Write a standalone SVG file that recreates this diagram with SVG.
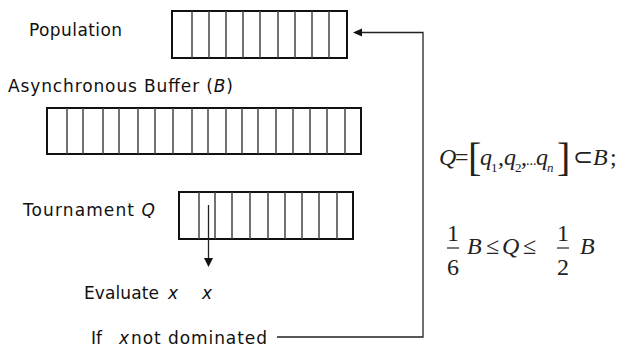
<svg xmlns="http://www.w3.org/2000/svg" width="621" height="351" viewBox="0 0 621 351">
<style>
.lbl{font-family:"DejaVu Sans","Verdana",sans-serif;font-size:17px;fill:#111}
.it{font-style:italic}
.m{font-family:"Liberation Serif","Times New Roman",serif;font-size:24px;fill:#222}
.sub{font-size:13px}
.big{font-size:40px}
.dots{font-size:14px}
.box{fill:#fff;stroke:#111;stroke-width:2}
.div{stroke:#444;stroke-width:1.5}
.con{fill:none;stroke:#222;stroke-width:1.3}
</style>
<rect width="621" height="351" fill="#fff"/>

<g id="population">
<text class="lbl" x="29" y="36" textLength="93">Population</text>
<rect class="box" x="172" y="11" width="175" height="47"/>
<path class="div" d="M192,11V58M209,11V58M226,11V58M243,11V58M260,11V58M278,11V58M295,11V58M312,11V58M329,11V58"/>
</g>

<g id="buffer">
<text class="lbl" x="8" y="92" textLength="225">Asynchronous Buffer (<tspan class="it">B</tspan>)</text>
<rect class="box" x="47" y="108" width="314" height="46"/>
<path class="div" d="M67,108V154M83,108V154M103,108V154M119,108V154M138,108V154M155,108V154M173,108V154M192,108V154M208,108V154M226,108V154M242,108V154M258,108V154M276,108V154M293,108V154M310,108V154M327,108V154M345,108V154"/>
</g>

<g id="tournament">
<text class="lbl" x="23" y="216" textLength="132">Tournament <tspan class="it">Q</tspan></text>
<rect class="box" x="179" y="192" width="174" height="47"/>
<path class="div" d="M199,192V239M215,192V239M232,192V239M250,192V239M268,192V239M285,192V239M302,192V239M319,192V239M337,192V239"/>
</g>

<g id="evaluate">
<text class="lbl" x="84" y="299" textLength="75">Evaluate</text>
<text class="lbl it" x="168" y="299">x</text>
<text class="lbl it" x="202" y="299">x</text>
</g>

<g id="dominated">
<text class="lbl" x="91" y="344">If</text>
<text class="lbl it" x="119" y="344">x</text>
<text class="lbl" x="131" y="344" textLength="136">not dominated</text>
</g>

<g id="connectors">
<path class="con" d="M208.5,205V259"/>
<polygon points="204,258 213,258 208.5,267" fill="#111"/>
<path class="con" d="M277,337H423V32.5H361"/>
<polygon points="353,32.5 362,28.5 362,36.5" fill="#111"/>
</g>

<g id="formula1">
<text class="m it" x="439" y="165">Q</text>
<text class="m" x="455" y="165">=</text>
<text class="m big" x="468" y="171">[</text>
<text class="m it" x="480" y="165">q</text>
<text class="m sub" x="491" y="172">1</text>
<text class="m" x="498" y="165">,</text>
<text class="m it" x="504" y="165">q</text>
<text class="m sub" x="515" y="172">2</text>
<text class="m" x="521" y="165">,</text>
<text class="m dots" x="526" y="165">...</text>
<text class="m it" x="536" y="165">q</text>
<text class="m sub it" x="547" y="172">n</text>
<text class="m big" x="557" y="171">]</text>
<text class="m" x="573" y="165">⊂</text>
<text class="m it" x="593" y="165">B</text>
<text class="m" x="610" y="165">;</text>
</g>

<g id="formula2">
<text class="m" x="453" y="241" text-anchor="middle">1</text>
<line x1="447" y1="248" x2="459" y2="248" stroke="#222" stroke-width="1.2"/>
<text class="m" x="453" y="275" text-anchor="middle">6</text>
<text class="m it" x="467" y="254">B</text>
<text class="m" x="486" y="254">≤</text>
<text class="m it" x="502" y="254">Q</text>
<text class="m" x="523" y="254">≤</text>
<text class="m" x="563" y="241" text-anchor="middle">1</text>
<line x1="557" y1="248" x2="569" y2="248" stroke="#222" stroke-width="1.2"/>
<text class="m" x="563" y="275" text-anchor="middle">2</text>
<text class="m it" x="580" y="254">B</text>
</g>
</svg>
